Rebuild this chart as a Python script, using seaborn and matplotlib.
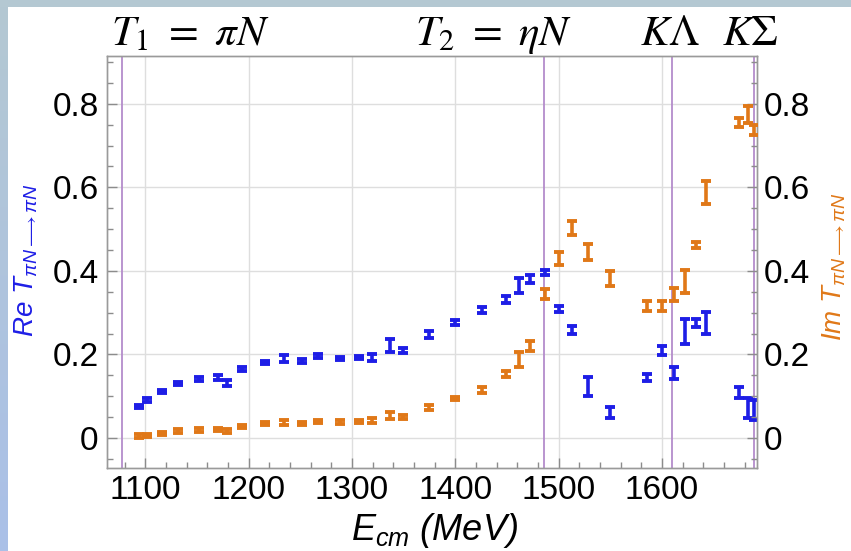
import numpy as np
import matplotlib
matplotlib.use("Agg")
import matplotlib.pyplot as plt
from matplotlib.ticker import MultipleLocator
import seaborn as sns

# Centre-of-mass energies (MeV)
energy = [1094, 1102, 1116, 1132, 1152, 1170, 1179, 1194, 1216, 1234,
          1252, 1267, 1288, 1307, 1319, 1337, 1349, 1375, 1400, 1426,
          1449, 1462, 1472, 1487, 1500, 1513, 1528, 1550, 1586, 1600,
          1612, 1622, 1633, 1643, 1675, 1683, 1689]

# Real part of the pi N -> pi N amplitude and its uncertainty
re_t = [0.075, 0.091, 0.111, 0.131, 0.141, 0.145, 0.132, 0.165, 0.181, 0.190,
        0.184, 0.196, 0.190, 0.192, 0.193, 0.221, 0.210, 0.248, 0.277, 0.307,
        0.332, 0.365, 0.381, 0.396, 0.308, 0.258, 0.123, 0.061, 0.145, 0.210,
        0.156, 0.255, 0.275, 0.276, 0.109, 0.071, 0.067]
re_err = [0.004, 0.004, 0.004, 0.004, 0.004, 0.005, 0.008, 0.004, 0.004, 0.008,
          0.005, 0.005, 0.004, 0.004, 0.008, 0.015, 0.006, 0.008, 0.006, 0.007,
          0.008, 0.017, 0.010, 0.007, 0.007, 0.010, 0.022, 0.014, 0.009, 0.011,
          0.014, 0.029, 0.010, 0.026, 0.014, 0.024, 0.023]

# Imaginary part of the pi N -> pi N amplitude and its uncertainty
im_t = [0.005, 0.006, 0.011, 0.017, 0.019, 0.020, 0.017, 0.027, 0.034, 0.037,
        0.034, 0.040, 0.038, 0.039, 0.042, 0.054, 0.050, 0.073, 0.094, 0.115,
        0.153, 0.188, 0.220, 0.345, 0.429, 0.502, 0.445, 0.381, 0.315, 0.316,
        0.343, 0.375, 0.462, 0.588, 0.755, 0.774, 0.738]
im_err = [0.004, 0.004, 0.004, 0.004, 0.004, 0.004, 0.005, 0.004, 0.004, 0.005,
          0.004, 0.004, 0.004, 0.004, 0.005, 0.009, 0.005, 0.005, 0.004, 0.007,
          0.008, 0.018, 0.012, 0.012, 0.015, 0.017, 0.020, 0.018, 0.012, 0.012,
          0.015, 0.028, 0.008, 0.027, 0.010, 0.020, 0.012]

# Channel thresholds (MeV) and their labels
thresholds = [1077.8, 1486.1, 1609.4, 1689.5]
threshold_labels = [r"$T_1\ =\ \pi N$", r"$T_2\ =\ \eta N$", r"$K\Lambda$", r"$K\Sigma$"]

x_ticks = [1100, 1200, 1300, 1400, 1500, 1600]
y_ticks = [0, 0.2, 0.4, 0.6, 0.8]
y_tick_labels = ["0", "0.2", "0.4", "0.6", "0.8"]

sns.set_theme(style="white")
plt.rcParams["font.family"] = ["Liberation Sans", "DejaVu Sans"]
plt.rcParams["text.color"] = "black"
plt.rcParams["mathtext.fontset"] = "custom"
plt.rcParams["mathtext.rm"] = "Liberation Sans"
plt.rcParams["mathtext.it"] = "Liberation Sans:italic"
plt.rcParams["mathtext.bf"] = "Liberation Sans:bold"

W, H = 851, 551
fig = plt.figure(figsize=(W / 100, H / 100), dpi=100, facecolor="white")

# slide backdrop: thin tinted band along the top and a gradient band on the left
bg = np.ones((H, W, 3))
c_top = np.array([0xb4, 0xc8, 0xd2]) / 255.0
c_bot = np.array([0xaa, 0xc0, 0xe8]) / 255.0
t = np.linspace(0, 1, H)[:, None]
bg[:, :8, :] = (c_top * (1 - t) + c_bot * t)[:, None, :]
bg[:7, :, :] = c_top
bg_ax = fig.add_axes([0, 0, 1, 1], zorder=-10)
bg_ax.imshow(bg, aspect="auto", interpolation="nearest")
bg_ax.axis("off")

left, right, top, bottom = 107, 757, 56.5, 467.7
ax = fig.add_axes([left / W, 1 - bottom / H, (right - left) / W, (bottom - top) / H])
ax.set_facecolor("white")
ylim = (-0.071, 0.913)
xlim = (1063, 1692)

blue = "#1e1ee6"
orange = "#e07818"
bar_kw = dict(fmt="none", elinewidth=2.6, capsize=3.4, capthick=2.8)

ax.set_axisbelow(True)
ax.grid(True, which="major", color="#dedede", lw=1.0)
for xt in thresholds:
    ax.axvline(xt, color="#b48ccc", lw=1.3, zorder=1.5)

ax.errorbar(energy, re_t, yerr=re_err, ecolor=blue, zorder=3, **bar_kw)

ax2 = ax.twinx()
ax2.errorbar(energy, im_t, yerr=im_err, ecolor=orange, zorder=3, **bar_kw)

for a in (ax, ax2):
    a.set_xlim(*xlim)
    a.set_ylim(*ylim)
    a.set_yticks(y_ticks, y_tick_labels)
    a.yaxis.set_minor_locator(MultipleLocator(0.05))
    a.tick_params(which="both", direction="in", colors="#8c8c8c",
                  labelcolor="black", labelsize=24, width=1)
    a.tick_params(which="major", length=7)
    a.tick_params(which="minor", length=4)
    for s in a.spines.values():
        s.set_color("#9a9a9a")
        s.set_linewidth(1.0)

ax.set_xticks(x_ticks)
ax.xaxis.set_minor_locator(MultipleLocator(20))
ax.tick_params(axis="x", which="both", bottom=True, top=False, pad=5)
ax.tick_params(axis="y", which="both", left=True, right=False, pad=6)
ax2.tick_params(axis="y", which="both", left=False, right=True,
                labelleft=False, labelright=True, pad=5)

# axis titles (rotated, anchored at the start of their baseline)
fig.text(33 / W, 1 - 337 / H, r"$Re\ T_{\pi N\longrightarrow\pi N}$", color=blue,
         rotation=90, rotation_mode="anchor", ha="left", va="baseline", fontsize=20)
fig.text(842 / W, 1 - 341 / H, r"$Im\ T_{\pi N\longrightarrow\pi N}$", color=orange,
         rotation=90, rotation_mode="anchor", ha="left", va="baseline", fontsize=20)
fig.text(435 / W, 1 - 540 / H, r"$E_{cm}$ (MeV)", style="italic", color="black",
         ha="center", va="baseline", fontsize=26)

# channel labels above the frame
label_x = [111, 415, 640, 722]
for lx, lab in zip(label_x, threshold_labels):
    fig.text(lx / W, 1 - 45 / H, lab, ha="left", va="baseline", fontsize=31,
             math_fontfamily="stix", color="black")

fig.savefig("out.png", dpi=100, facecolor="white")
